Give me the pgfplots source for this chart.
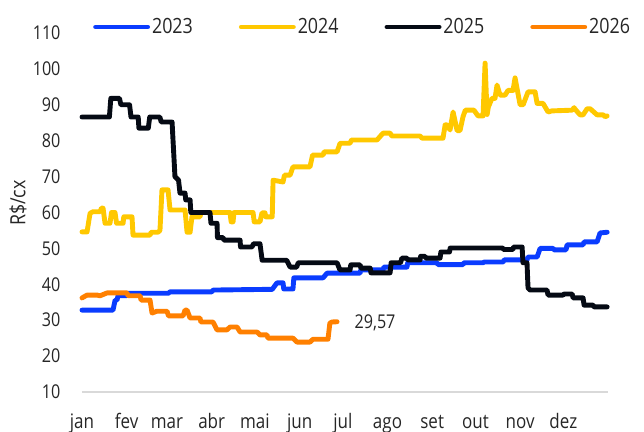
\documentclass[border=0pt]{standalone}
\usepackage{pgfplots}
\pgfplotsset{compat=1.18}
\usepackage{fontspec}
\setmainfont{Open Sans}[FakeStretch=0.85]
\definecolor{cblue}{HTML}{0A3CFF}
\definecolor{cyellow}{HTML}{FFC800}
\definecolor{cblack}{HTML}{050A14}
\definecolor{corange}{HTML}{FF8000}
\begin{document}
\fontsize{19bp}{22bp}\selectfont
\begin{tikzpicture}
\path[use as bounding box] (-82bp,-40bp) rectangle (562bp,392bp);
\begin{axis}[
  at={(0,0)}, anchor=south west,
  scale only axis, width=526bp, height=359bp,
  xmin=0, xmax=365, ymin=10, ymax=110,
  clip=false,
  axis x line*=bottom, axis y line*=left,
  y axis line style={draw=none},
  x axis line style={draw=black!15, line width=1.2bp},
  major tick length=0,
  xtick={0,31,59,90,120,151,181,212,243,273,304,334},
  xticklabels={jan,fev,mar,abr,mai,jun,jul,ago,set,out,nov,dez},
  ytick={10,20,...,110},
  /pgf/number format/assume math mode=true,
  tick label style={text=black!85},
  yticklabel style={font=\fontsize{19bp}{22bp}\selectfont, xshift=-15bp},
  xticklabel style={font=\fontsize{20bp}{23bp}\selectfont, anchor=base, yshift=-36bp},
  every axis plot/.append style={line width=4.9bp, line join=round, line cap=round},
  legend columns=4,
  legend style={draw=none, fill=none, at={(0,1)}, anchor=west, xshift=8bp, yshift=6bp,
    font=\fontsize{21bp}{24bp}\selectfont, text=black!85,
    /tikz/every even column/.append style={column sep=44bp}},
  legend image code/.code={\draw[#1, line width=4.9bp, line cap=round] (0bp,0bp) -- (52bp,0bp);},
]
\addplot[cblue] coordinates {
(0,32.8)(21.5,32.8)(23,35.6)(24.3,35.6)(25,36.8)(31,36.8)(31.5,37.5)(60,37.5)(61,37.9)(90,37.9)(91,38.4)(132,38.6)(135.3,40.4)(139.5,40.4)(140,38.7)(146.4,38.7)(147,41.8)(167.3,41.8)(170,43.1)(192.9,43.1)(193.5,44)(208.9,44)(209.5,44.8)(225.5,44.8)(226,46)(246.4,46)(247,45.5)(264.4,45.5)(265,46)(278.3,46)(279,46.2)(292.2,46.2)(293,46.8)(308.8,46.8)(309.5,47.6)(315.8,47.6)(317.9,50)(326.9,50)(327.5,49.6)(335.9,49.6)(336.6,51)(347.7,51)(348.4,51.8)(357.4,51.8)(359.5,54.3)(364.4,54.5)
};
\addlegendentry{2023}
\addplot[cyellow] coordinates {
(0,54.6)(3.5,54.6)(5.6,59.8)(7.6,60.2)(12.5,60.2)(13.5,61.2)(14.6,61.2)(16,57)(19.4,57)(20.5,60)(22.9,60)(24,57)(28.5,57)(29,58.8)(34.7,58.8)(35.4,53.7)(47.2,53.7)(48,54.5)(52.7,54.5)(54.1,55)(55.5,66.3)(59.7,66.3)(61.1,60.7)(71.5,60.7)(72.9,54.5)(75,54.5)(76.3,58.8)(81.9,58.8)(82.5,60)(102.7,60)(103.5,57.4)(104.8,57.4)(105.5,60)(118.7,60)(119.5,57.4)(123.5,57.4)(124.9,59.9)(127,59.9)(127.5,58.8)(132,58.8)(132.6,69)(139.5,68.5)(140.5,70.4)(144.4,70.4)(146.4,72.7)(158.2,72.7)(160,76)(167.3,76)(168,76.9)(177,76.9)(179.1,79.3)(186,79.3)(187,80.2)(204.7,80.2)(208.9,82.1)(213.8,82.1)(215,81.3)(234.6,81.3)(236,80.7)(250.5,80.7)(252,84.4)(253.3,84.4)(255.4,83)(257.5,88)(260.3,82.8)(262.3,82.8)(264.4,86.7)(266,88.5)(272,88.5)(274.8,86.9)(278.3,86.9)(279.7,101.6)(281.1,87.3)(282,89.4)(284.5,91.8)(286.6,91.8)(288,95.5)(290.1,92.7)(293.6,92.7)(295.6,94)(299.1,94)(300.5,97.5)(304,90)(306.1,90)(309.5,93.6)(314.4,93.6)(315.8,90.4)(319.9,90.4)(323.4,88)(326,88.3)(340,88.5)(341.5,89.2)(342.1,88.8)(345.6,87.2)(347.7,87.2)(350.5,88.9)(352.6,88.9)(357.4,87.2)(361.6,87.2)(363,86.7)(364.4,86.9)
};
\addlegendentry{2024}
\addplot[cblack] coordinates {
(0,86.6)(19,86.6)(20,91.8)(26,91.8)(27,90)(33,90)(34,86.6)(39,86.6)(39.5,83.5)(46,83.5)(47,86.6)(54,86.6)(55,85.2)(62.5,85.2)(64.5,70)(67,69)(68,65.4)(71.5,65.4)(72,63.5)(75,63.5)(75.5,60)(88.8,60)(89.5,57)(93.7,57)(94,53)(97.9,53)(98.5,52.3)(109.7,52.3)(110,50.4)(118,50.4)(119,51.3)(123.5,51.3)(125,46.7)(142,46.7)(144.4,44.8)(149,44.8)(150,46)(177,46)(179,44)(186,44)(186.5,45.4)(193,45.4)(193.5,44.5)(200,44.5)(200.5,43.2)(213.8,43.2)(214.5,46)(221,46)(222,47.3)(225.5,47.3)(226,46.8)(234.6,46.8)(235,47.8)(238,47.8)(238.5,47.3)(248.5,47.3)(249,49)(255,49)(255.5,50.1)(292,50.1)(292.5,49.7)(299,49.7)(299.5,50.4)(305.4,50.4)(306,46)(308.8,46)(309.5,39)(310.9,38.4)(322.7,38.4)(323.4,37)(333.8,37)(334.5,37.3)(340.1,37.3)(340.8,36.2)(347.7,36.2)(348.4,34.2)(354.6,34.2)(355.3,33.7)(364.4,33.7)
};
\addlegendentry{2025}
\addplot[corange] coordinates {
(0,36.2)(3.5,37)(10.4,37)(12.5,36.8)(17.4,37.6)(31.2,37.6)(32,36.8)(40.3,36.8)(41,35.6)(47.2,35.6)(48.6,32)(52,32.5)(59,32.5)(60,31.2)(70.1,31.2)(71.5,32.8)(72.9,32.8)(75,30.6)(81.9,30.6)(82.5,29.5)(90.9,29.5)(93.7,27.3)(100.6,27.3)(102.7,28.1)(107.6,28.1)(109.7,26.7)(121.5,26.7)(123.5,25.9)(128.4,25.9)(129,25)(146.4,25)(149.2,23.9)(158.2,23.9)(160.3,24.7)(170.7,24.7)(172,29.2)(173.5,29.5)(177,29.57)
};
\addlegendentry{2026}
\node[anchor=west, text=black!85, inner sep=0pt, font=\fontsize{19bp}{22bp}\selectfont] at (axis cs:189,29.3) {29,57};
\end{axis}
\node[rotate=90, text=black!85, font=\fontsize{21bp}{24bp}\selectfont] at (-64bp,189bp) {R\$/cx};
\end{tikzpicture}
\end{document}
